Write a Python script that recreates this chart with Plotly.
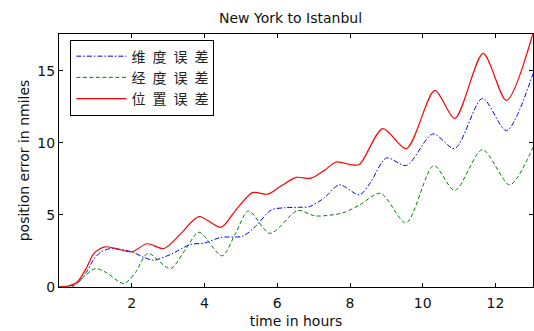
import plotly.graph_objects as go

# Data (time in hours, error in nmiles)
t_red = [0, 0.22, 0.5, 0.77, 0.95, 1.14, 1.27, 1.6, 2.0, 2.42, 2.88, 3.35, 3.85, 4.45, 4.85, 5.32,
         5.74, 6.1, 6.52, 6.93, 7.3, 7.62, 8.03, 8.26, 8.9, 9.55, 10.33, 10.88, 11.66, 12.3, 13.03]
v_red = [0, 0.05, 0.35, 1.4, 2.3, 2.67, 2.79, 2.65, 2.44, 3.0, 2.67, 3.7, 4.88, 4.14, 5.3, 6.55,
         6.44, 7.0, 7.6, 7.55, 8.1, 8.67, 8.48, 8.5, 10.99, 9.6, 13.64, 11.69, 16.2, 12.94, 17.6]

t_blue = [0, 0.22, 0.5, 0.77, 0.95, 1.14, 1.41, 1.7, 2.0, 2.3, 2.6, 3.1, 3.61, 4.0, 4.45, 5.05, 5.4,
          5.83, 6.2, 6.61, 6.88, 7.3, 7.71, 8.26, 8.55, 9.0, 9.55, 10.28, 10.88, 11.64, 12.3, 13.03]
v_blue = [0, 0.03, 0.25, 1.1, 1.9, 2.4, 2.67, 2.6, 2.44, 2.1, 1.86, 2.3, 2.95, 3.05, 3.44, 3.53, 4.2,
          5.34, 5.5, 5.53, 5.57, 6.2, 7.09, 6.39, 7.2, 8.95, 8.43, 10.62, 9.6, 13.08, 10.85, 14.8]

t_green = [0, 0.4, 0.68, 1.0, 1.3, 1.78, 2.1, 2.44, 3.06, 3.5, 3.85, 4.48, 4.85, 5.21, 5.8, 6.56,
           7.05, 7.8, 8.26, 8.84, 9.54, 10.3, 10.88, 11.64, 12.39, 13.03]
v_green = [0, 0.05, 0.7, 1.28, 1.0, 0.24, 1.0, 2.33, 1.28, 2.7, 3.8, 2.16, 3.7, 5.28, 3.72, 5.3,
           4.93, 5.14, 5.69, 6.5, 4.44, 8.43, 6.69, 9.53, 7.09, 9.7]

SP = "\u2002"  # en space between the characters, as in the reference legend
names = [SP.join("维度误差"), SP.join("经度误差"), SP.join("位置误差")]
x_ticks = [2, 4, 6, 8, 10, 12]
y_ticks = [0, 5, 10, 15]

FONT = "DejaVu Sans, Liberation Sans, Arial"

fig = go.Figure()
fig.add_trace(go.Scatter(x=t_blue, y=v_blue, mode="lines", name=names[0],
                         line=dict(color="#0000ff", width=1, dash="5px,2px,1.5px,2px",
                                   shape="spline", smoothing=0.8)))
fig.add_trace(go.Scatter(x=t_green, y=v_green, mode="lines", name=names[1],
                         line=dict(color="#008000", width=1, dash="4px,2.5px",
                                   shape="spline", smoothing=0.8)))
fig.add_trace(go.Scatter(x=t_red, y=v_red, mode="lines", name=names[2],
                         line=dict(color="#ff0000", width=1.2, shape="spline", smoothing=0.8)))

axis_common = dict(showline=True, mirror="ticks", linecolor="black", linewidth=1,
                   ticks="inside", ticklen=4, tickcolor="black", showgrid=False, zeroline=False,
                   tickfont=dict(family=FONT, size=14, color="#111111"))

fig.update_layout(
    width=534, height=331,
    margin=dict(l=59, r=1, t=34, b=44),
    paper_bgcolor="white", plot_bgcolor="white",
    title=dict(text="New York to Istanbul", x=0.544, xanchor="center", y=1 - 18 / 331, yanchor="middle",
               xref="container", yref="container", font=dict(family=FONT, size=14, color="#111111")),
    xaxis=dict(range=[0, 13.03], tickvals=x_ticks, ticklabelstandoff=3,
               title=dict(text="time in hours", standoff=6,
                          font=dict(family=FONT, size=14, color="#111111")),
               **axis_common),
    yaxis=dict(range=[0, 17.55], tickvals=y_ticks,
               title=dict(text="position error in nmiles", standoff=4,
                          font=dict(family=FONT, size=14, color="#111111")),
               **axis_common),
    legend=dict(x=0.024, y=0.978, xanchor="left", yanchor="top",
                bgcolor="white", bordercolor="black", borderwidth=1,
                itemwidth=50, tracegroupgap=0,
                font=dict(family="Noto Sans CJK SC", size=14, color="#222222")),
    showlegend=True,
)

fig.write_html("out.html")
